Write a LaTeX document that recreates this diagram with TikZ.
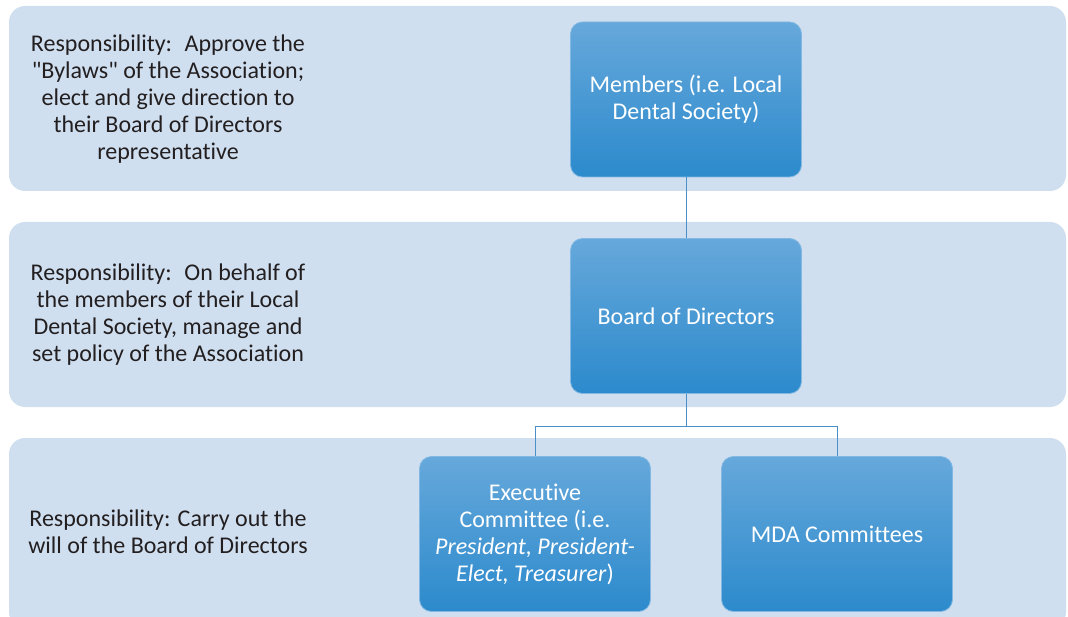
\documentclass[tikz,border=0pt]{standalone}
\usepackage{fontspec}
\setmainfont{Carlito}[Ligatures={NoCommon}]
\usetikzlibrary{shapes,arrows}

\definecolor{bandblue}{RGB}{207,223,240}
\definecolor{boxtop}{RGB}{102,168,219}
\definecolor{boxbot}{RGB}{44,138,204}
\definecolor{boxrim}{RGB}{130,184,226}
\definecolor{linkblue}{RGB}{74,143,200}
\definecolor{resptext}{RGB}{35,31,32}

\begin{document}
\begin{tikzpicture}
 		[
 		x = 1pt, y = 1pt,
 		band/.style = {fill=bandblue, rounded corners=16pt, minimum width=1057pt, inner sep=0pt},
 		resp/.style = {text=resptext, align=center, font=\fontsize{24}{27}\selectfont},
 		role/.style = {rounded corners=12pt, top color=boxtop, bottom color=boxbot, draw=boxrim, line width=0.8pt,
 			minimum width=231pt, minimum height=155pt, align=center, text=white, font=\fontsize{24}{27}\selectfont},
 		edge from parent/.style = {draw=linkblue, line width=1pt},
 		level 1/.style = {level distance=216.5pt},
 		level 2/.style = {level distance=218pt, sibling distance=302pt,
 			edge from parent path={(\tikzparentnode.south) -- ++(0,-33) -| (\tikzchildnode.north)}}
 		]
 		\clip (0,0) rectangle (1068,-617);
 		
 		% the three bands
 		\node[band, minimum height=185pt] (band1) at (537.5,-98.5) {};
 		\node[band, minimum height=185pt] (band2) at (537.5,-314.5) {};
 		\node[band, minimum height=190pt] (band3) at (537.5,-533) {};
 		
 		\node[resp] (resp1) at (168,-99) {Responsibility:~ Approve the\\\textquotedbl Bylaws\textquotedbl{} of the Association;\\elect and give direction to\\their Board of Directors\\representative};
 		\node[resp] (resp2) at (168,-315) {Responsibility:~ On behalf of\\the members of their Local\\Dental Society, manage and\\set policy of the Association};
 		\node[resp] (resp3) at (168,-532) {Responsibility: Carry out the\\will of the Board of Directors};
 		
 		% the chart
 		\node[role] (members) at (686,-99.5) {Members (i.e. Local\\Dental Society)}
 		child {
 			node[role] (board) {Board of Directors}
 			child {
 				node[role] (exec) {Executive\\Committee (i.e.\\\textit{President, President-}\\\textit{Elect, Treasurer})}
 			}
 			child {
 				node[role] (mda) {MDA Committees}
 			}
 		};
 		
 		\end{tikzpicture}
\end{document}
